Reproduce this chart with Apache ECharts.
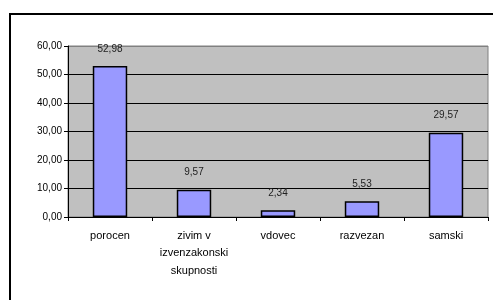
<!DOCTYPE html>
<html>
<head>
<meta charset="utf-8">
<script src="https://cdn.jsdelivr.net/npm/echarts@6/dist/echarts.min.js"></script>
<style>
  html, body { margin: 0; padding: 0; background: #fff; }
  #chart { width: 493px; height: 300px; }
</style>
</head>
<body>
<div id="chart"></div>
<script>
var categories = ["porocen", "zivim v\nizvenzakonski\nskupnosti", "vdovec", "razvezan", "samski"];
var values = [52.98, 9.57, 2.34, 5.53, 29.57];

var chartDom = document.getElementById("chart");
var myChart = echarts.init(chartDom);

function comma(v) {
  return Number(v).toFixed(2).replace(".", ",");
}

var option = {
  animation: false,
  textStyle: { fontFamily: "Liberation Sans, Arial, sans-serif" },
  graphic: [
    {
      type: "rect",
      shape: { x: 10, y: 14, width: 500, height: 300 },
      style: { fill: "none", stroke: "#000", lineWidth: 2 },
      silent: true
    }
  ],
  grid: {
    left: 68,
    top: 46,
    right: 5,
    bottom: 83,
    show: true,
    backgroundColor: "#c0c0c0",
    borderColor: "#808080",
    borderWidth: 1
  },
  xAxis: {
    type: "category",
    data: categories,
    axisLine: { lineStyle: { color: "#000", width: 1 } },
    axisTick: { show: true, length: 4, lineStyle: { color: "#000" } },
    axisLabel: {
      color: "#000",
      fontSize: 11,
      margin: 10,
      lineHeight: 17.5,
      interval: 0
    }
  },
  yAxis: {
    type: "value",
    min: 0,
    max: 60,
    interval: 10,
    axisLine: { show: true, lineStyle: { color: "#000", width: 1 } },
    axisTick: { show: true, length: 4, lineStyle: { color: "#000" } },
    axisLabel: {
      color: "#000",
      fontSize: 10,
      margin: 6,
      formatter: comma
    },
    splitLine: {
      show: true,
      lineStyle: {
        color: ["#000", "#000", "#000", "#000", "#000", "#000", "#808080"],
        width: 1
      }
    }
  },
  series: [
    {
      type: "bar",
      data: values,
      barWidth: "41%",
      itemStyle: {
        color: "#9999ff",
        borderColor: "#000",
        borderWidth: 1.5
      },
      label: {
        show: true,
        position: "top",
        distance: 12,
        color: "#222",
        fontSize: 10,
        formatter: function (p) { return comma(p.value); }
      }
    }
  ]
};

option && myChart.setOption(option);
</script>
</body>
</html>
